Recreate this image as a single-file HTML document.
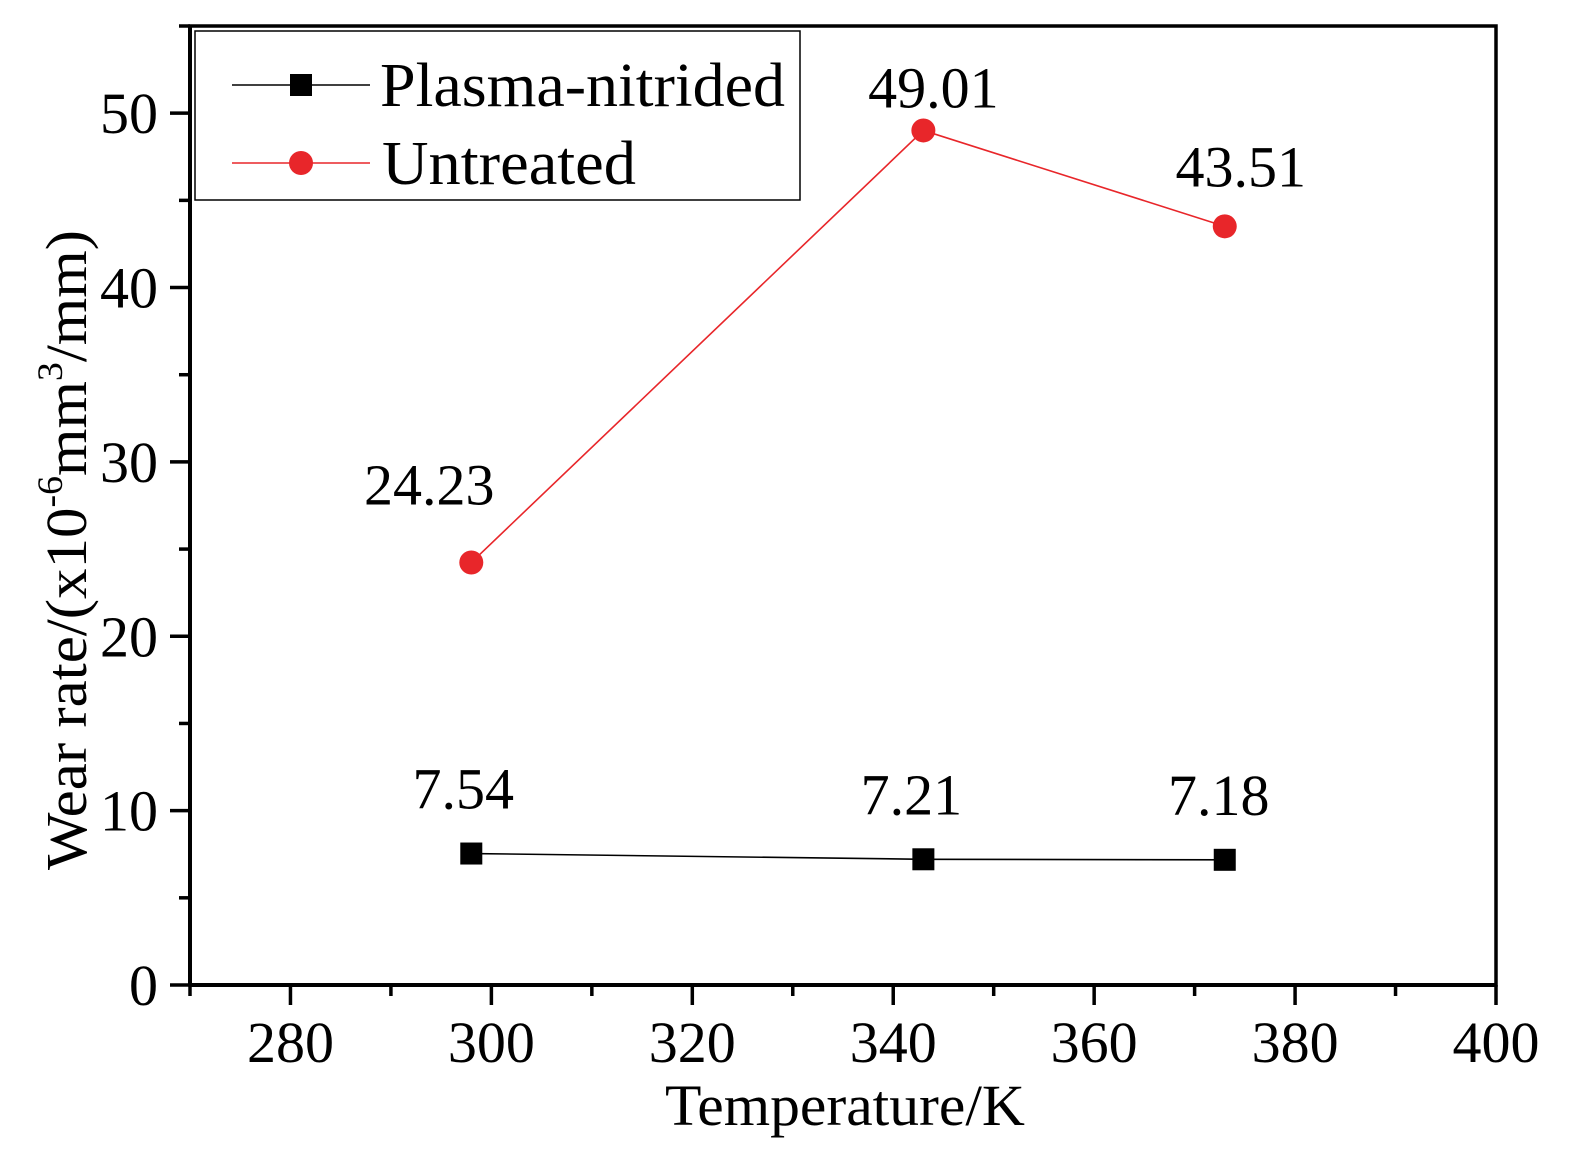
<!DOCTYPE html>
<html><head><meta charset="utf-8"><style>
html,body{margin:0;padding:0;background:#fff}
svg{display:block}
text{font-family:"Liberation Serif",serif;fill:#000}
</style></head><body>
<svg id="chart" width="1590" height="1167" viewBox="0 0 1590 1167" xmlns="http://www.w3.org/2000/svg">
<g id="axes"></g>
<g id="series"></g>
<g id="legend">
  <rect x="195" y="31" width="605" height="169" fill="#fff" stroke="#000" stroke-width="1.5"/>
  <g>
    <line x1="232" y1="85" x2="370" y2="85" stroke="#000" stroke-width="1.5"/>
    <rect x="290" y="74" width="22" height="22" fill="#000"/>
    <text x="380" y="106" font-size="62" textLength="405" lengthAdjust="spacingAndGlyphs">Plasma-nitrided</text>
  </g>
  <g>
    <line x1="232" y1="163" x2="370" y2="163" stroke="#e8262a" stroke-width="1.5"/>
    <circle cx="301" cy="163" r="12" fill="#e8262a"/>
    <text x="382" y="184" font-size="62" textLength="254" lengthAdjust="spacingAndGlyphs">Untreated</text>
  </g>
</g>
<text x="845" y="1125" font-size="58" text-anchor="middle" textLength="360" lengthAdjust="spacingAndGlyphs">Temperature/K</text>
<text transform="translate(86,550) rotate(-90)" font-size="58" text-anchor="middle" textLength="640" lengthAdjust="spacingAndGlyphs">Wear rate/(x10<tspan font-size="36" dy="-24">-6</tspan><tspan dy="24">mm</tspan><tspan font-size="36" dy="-24">3</tspan><tspan dy="24">/mm)</tspan></text>
</svg>
<script>
const temps = [298, 343, 373];
const plasmaValues = [7.54, 7.21, 7.18];
const untreatedValues = [24.23, 49.01, 43.51];
const xTicks = [280, 300, 320, 340, 360, 380, 400];
const yTicks = [0, 10, 20, 30, 40, 50];

const X0 = 190, X1 = 1496, Y0 = 985, Y1 = 26;
const xMin = 270, xMax = 400, yMin = 0, yMax = 55;
function xs(v){ return X0 + (v - xMin) / (xMax - xMin) * (X1 - X0); }
function ys(v){ return Y0 - (v - yMin) / (yMax - yMin) * (Y0 - Y1); }
const NS = "http://www.w3.org/2000/svg";
function mk(tag, attrs, parent){
  const e = document.createElementNS(NS, tag);
  for (const k in attrs) e.setAttribute(k, attrs[k]);
  parent.appendChild(e);
  return e;
}
const axes = document.getElementById('axes');
const series = document.getElementById('series');

const frame = mk('rect', {x:X0, y:Y1, width:X1-X0, height:Y0-Y1, fill:'none', stroke:'#000', 'stroke-width':3.5}, axes);


const xl = mk('line', {x1:X0, y1:Y0, x2:X1, y2:Y0, stroke:'#000', 'stroke-width':4}, axes);


const yl = mk('line', {x1:X0, y1:Y0, x2:X0, y2:Y1, stroke:'#000', 'stroke-width':4}, axes);



for (let v = xMin; v <= xMax; v += 10) {
  const major = (v % 20 === 0);
  const x = xs(v);
  const t = mk('line', {x1:x, y1:Y0, x2:x, y2:Y0 + (major ? 20 : 11), stroke:'#000', 'stroke-width':3.5}, axes);
  
  
}
xTicks.forEach(v => {
  const t = mk('text', {x:xs(v), y:1062, 'font-size':58, 'text-anchor':'middle'}, axes);
  t.textContent = v;
  
  
});
for (let v = yMin; v <= yMax; v += 5) {
  const major = (v % 10 === 0);
  const y = ys(v);
  const t = mk('line', {x1:X0 - (major ? 20 : 11), y1:y, x2:X0, y2:y, stroke:'#000', 'stroke-width':3.5}, axes);
  
  
}
yTicks.forEach(v => {
  const t = mk('text', {x:158, y:ys(v) + 20, 'font-size':58, 'text-anchor':'end'}, axes);
  t.textContent = v;
  
  
});

const up = mk('polyline', {points: temps.map((t,i)=>xs(t)+','+ys(untreatedValues[i])).join(' '), fill:'none', stroke:'#e8262a', 'stroke-width':1.6}, series);


const uOff = [[-42, -58], [10, -23], [16, -40]];
temps.forEach((t,i) => {
  const c = mk('circle', {cx:xs(t), cy:ys(untreatedValues[i]), r:12, fill:'#e8262a'}, series);
  
  
  const l = mk('text', {x:xs(t) + uOff[i][0], y:ys(untreatedValues[i]) + uOff[i][1], 'font-size':58, 'text-anchor':'middle'}, series);
  l.textContent = untreatedValues[i].toFixed(2);
  
  
});
const pp = mk('polyline', {points: temps.map((t,i)=>xs(t)+','+ys(plasmaValues[i])).join(' '), fill:'none', stroke:'#000', 'stroke-width':1.6}, series);


const pOff = [-8, -12, -6];
temps.forEach((t,i) => {
  const r = mk('rect', {x:xs(t)-11, y:ys(plasmaValues[i])-11, width:22, height:22, fill:'#000'}, series);
  
  
  const l = mk('text', {x:xs(t) + pOff[i], y:ys(plasmaValues[i]) - 45, 'font-size':58, 'text-anchor':'middle'}, series);
  l.textContent = plasmaValues[i].toFixed(2);
  
  
});
</script>
</body></html>
